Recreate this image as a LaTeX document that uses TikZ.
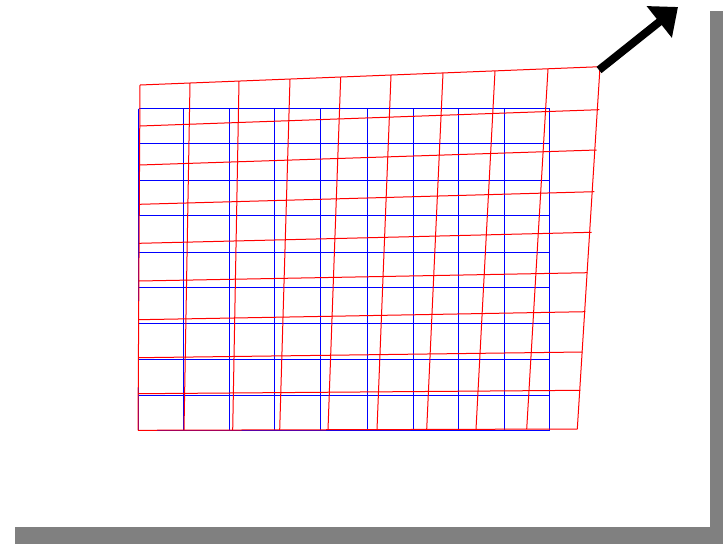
\documentclass[tikz,border=0pt]{standalone}
\usetikzlibrary{arrows.meta}
\definecolor{gridblue}{RGB}{0,0,255}
\definecolor{gridred}{RGB}{255,0,0}
\begin{document}
\begin{tikzpicture}[x=1pt,y=-1pt,
  bluegrid/.style={draw=gridblue,line width=1pt},
  redgrid/.style={draw=gridred,line width=1pt},
  bigarrow/.style={draw=black,line width=8pt,-{Triangle[length=24pt,width=39pt]}}]
\useasboundingbox (0,0) rectangle (723,544);
\fill[black!50] (15,11) rectangle (723,544);
\fill[white] (0,0) rectangle (710,527);
% blue regular grid
\foreach \x in {138.5,183.5,229.5,274.5,320.5,367.5,413.5,458.5,504.5,549.5}
  \draw[bluegrid] (\x,108.5) -- (\x,430.5);
\foreach \y in {108.5,143.5,180.5,215.5,252.5,287.5,323.5,359.5,395.5,430.5}
  \draw[bluegrid] (138.5,\y) -- (549.5,\y);
% red warped grid
\foreach \tx/\ty/\bx/\by in {140/85/138/430.3,190/83.0/184/430.2,239/81.1/232.7/430.0,
  290/79.1/279.7/429.9,340.7/77.1/328/429.7,391/75.2/377/429.6,443/73.1/426.7/429.4,
  495/71.1/476/429.3,548/69.0/526.7/429.1,600/67/577.3/429}
  \draw[redgrid] (\tx,\ty) -- (\bx,\by);
\foreach \lx/\ly/\rx/\ry in {140/85/600/66.7,139.8/126/599.3/109.7,139.5/165/596.7/150,
  139.3/204.3/594.3/191.7,139.1/243.3/591.7/232.3,138.9/281/587.3/272.7,
  138.6/319.7/585.3/311.7,138.4/357.7/582.7/352,138.2/393.7/580.3/390.3,138/430.3/577.3/429}
  \draw[redgrid] (\lx,\ly) -- (\rx,\ry);
% arrow
\coordinate (a0) at (599,70);
\coordinate (a1) at (678,7);
\draw[bigarrow] (a0) -- (a1);
\end{tikzpicture}
\end{document}
